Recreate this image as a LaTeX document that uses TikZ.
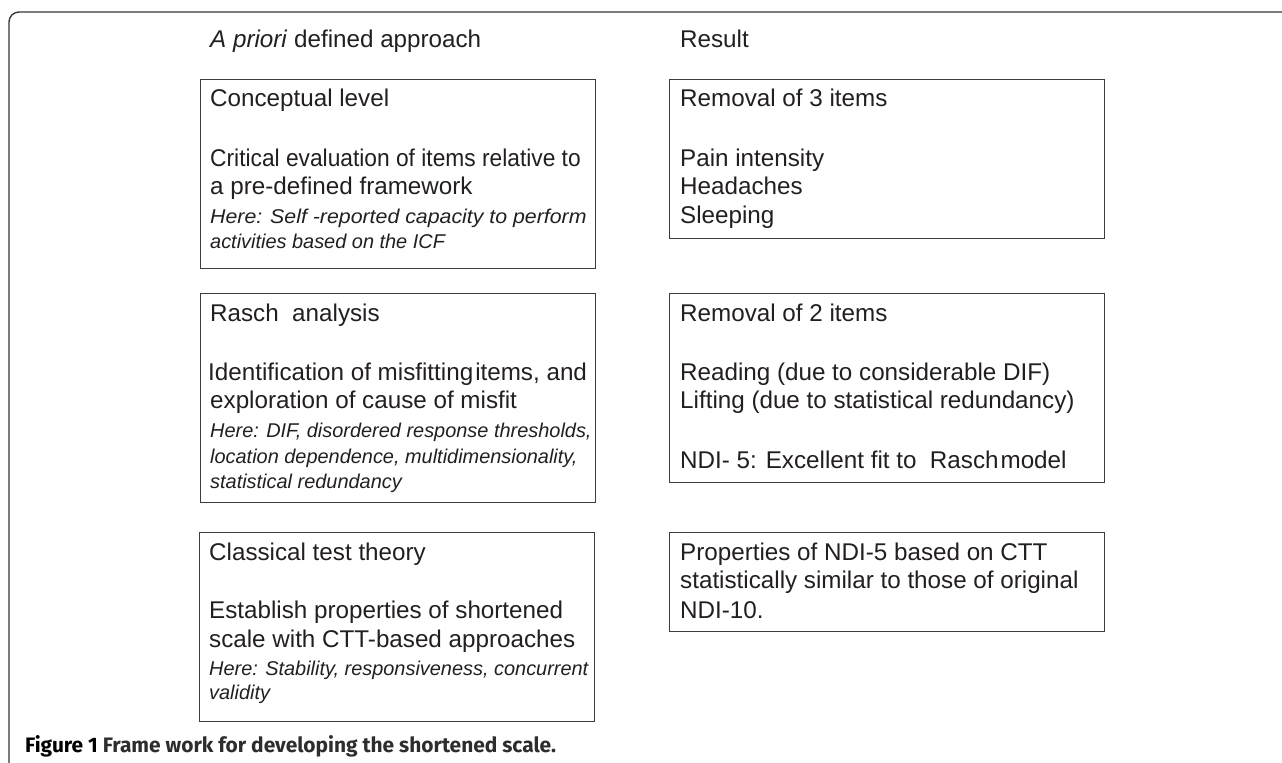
\documentclass[tikz,border=0pt]{standalone}
\usepackage{fontspec}
\setmainfont{Liberation Sans}
\newfontfamily\capfont{Fira Sans}
\definecolor{ink}{RGB}{35,31,32}
\definecolor{capgray}{RGB}{45,45,45}
\definecolor{boxline}{RGB}{60,60,60}
\definecolor{frameline}{RGB}{55,55,55}
\begin{document}
\begin{tikzpicture}[
  x=1bp, y=-1bp,
  box/.style={draw=boxline, line width=1bp, inner sep=0pt, rectangle, anchor=north west},
  txt/.style={anchor=base west, inner sep=0pt, text=ink, font=\fontsize{24.3}{28}\selectfont},
  itx/.style={txt, font=\fontsize{20}{24}\selectfont\itshape},
  captxt/.style={anchor=base west, inner sep=0pt, text=capgray, font=\capfont\bfseries\fontsize{21}{24}\selectfont},
  frame/.style={draw=frameline, line width=1.4bp, rounded corners=10bp}
]
\useasboundingbox (0,0) rectangle (1282,763);
\clip (0,0) rectangle (1282,763);
\fill[white] (0,0) rectangle (1282,763);

% outer frame
\coordinate (fTR) at (1300,12);
\coordinate (fTL) at (9,12);
\coordinate (fBL) at (9,780);
\draw[frame] (fTR) -- (fTL) -- (fBL);

% column headings
\node[txt] (hA) at (210,48) {\textit{A priori} defined approach};
\node[txt] (hR) at (680,48) {Result};

% boxes
\node[box, minimum width=395bp, minimum height=189bp] (L1) at (200,79) {};
\node[box, minimum width=395bp, minimum height=209bp] (L2) at (200,293) {};
\node[box, minimum width=395bp, minimum height=189bp] (L3) at (199,532) {};
\node[box, minimum width=435bp, minimum height=159bp] (R1) at (669,79) {};
\node[box, minimum width=435bp, minimum height=189bp] (R2) at (669,293) {};
\node[box, minimum width=435bp, minimum height=99bp] (R3) at (669,532) {};

% L1 text
\node[txt] (l1a) at (210,107) {Conceptual level};
\node[txt] (l1b) at (210,166) {\scalebox{0.94}[1]{Critical evaluation of items relative to}};
\node[txt] (l1c) at (210,194) {a pre-defined framework};
\node[itx] (l1d) at (210,223) {\scalebox{1.07}[1]{Here: Self -reported capacity to perform}};
\node[itx] (l1e) at (210,248) {activities based on the ICF};

% L2 text
\node[txt] (l2a) at (210,321) {Rasch\ \ analysis};
\node[txt] (l2b) at (208,380) {Identification of misfitting\kern2bp items, and};
\node[txt] (l2c) at (210,408) {exploration of cause of misfit};
\node[itx] (l2d) at (210,437) {Here: DIF, disordered response thresholds,};
\node[itx] (l2e) at (210,463) {location dependence, multidimensionality,};
\node[itx] (l2f) at (210,488) {statistical redundancy};

% L3 text
\node[txt] (l3a) at (209,560) {Classical test theory};
\node[txt] (l3b) at (209,618) {Establish properties of shortened};
\node[txt] (l3c) at (209,647) {scale with CTT-based approaches};
\node[itx] (l3d) at (209,675) {Here: Stability, responsiveness, concurrent};
\node[itx] (l3e) at (209,699) {validity};

% R1 text
\node[txt] (r1a) at (680,107) {Removal of 3 items};
\node[txt] (r1b) at (680,166) {Pain intensity};
\node[txt] (r1c) at (680,194) {Headaches};
\node[txt] (r1d) at (680,223) {Sleeping};

% R2 text
\node[txt] (r2a) at (680,321) {Removal of 2 items};
\node[txt] (r2b) at (680,380) {Reading (due to considerable DIF)};
\node[txt] (r2c) at (680,408) {Lifting (due to statistical redundancy)};
\node[txt] (r2d) at (680,468) {NDI- 5: Excellent fit to\ \ Rasch\kern2bp model};

% R3 text
\node[txt] (r3a) at (680,560) {Properties of NDI-5 based on CTT};
\node[txt] (r3b) at (680,588) {statistically similar to those of original};
\node[txt] (r3c) at (680,618) {NDI-10.};

% caption
\node[captxt] (cap) at (25,752) {\textcolor{black}{Figure 1} Frame work for developing the shortened scale.};
\end{tikzpicture}
\end{document}
